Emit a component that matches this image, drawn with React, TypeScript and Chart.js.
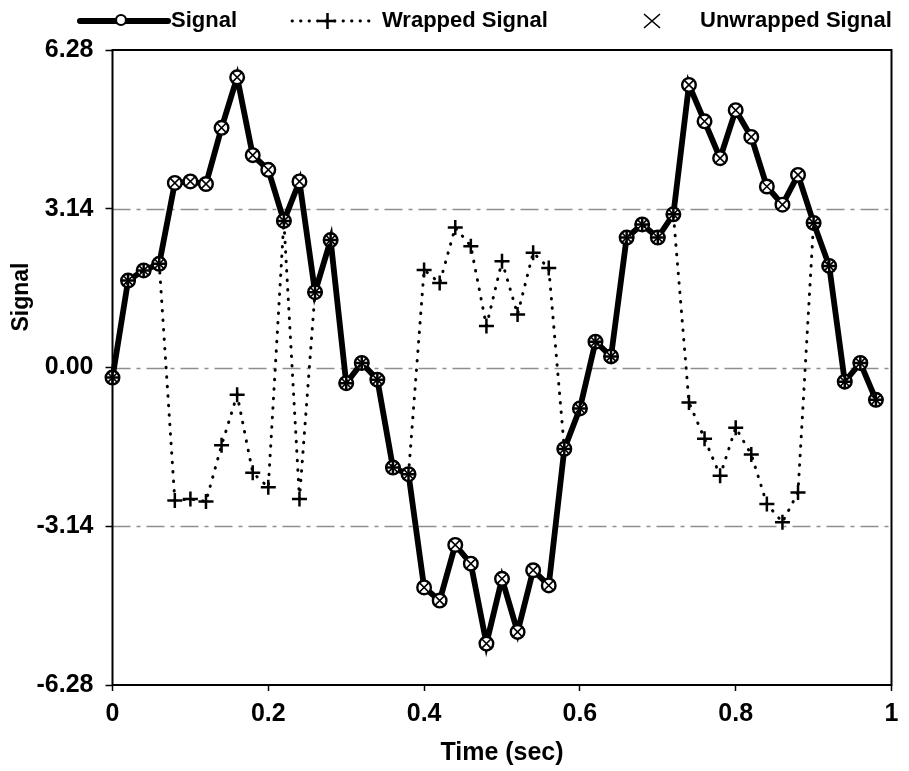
import React, { useEffect, useRef } from "react";
import { Chart, registerables } from "chart.js";

Chart.register(...registerables);

// Sample times (seconds)
const time = [
  0, 0.02, 0.04, 0.06, 0.08, 0.1, 0.12, 0.14, 0.16, 0.18,
  0.2, 0.22, 0.24, 0.26, 0.28, 0.3, 0.32, 0.34, 0.36, 0.38,
  0.4, 0.42, 0.44, 0.46, 0.48, 0.5, 0.52, 0.54, 0.56, 0.58,
  0.6, 0.62, 0.64, 0.66, 0.68, 0.7, 0.72, 0.74, 0.76, 0.78,
  0.8, 0.82, 0.84, 0.86, 0.88, 0.9, 0.92, 0.94, 0.96, 0.98,
];

// Original phase signal
const signal = [
  -0.2, 1.72, 1.92, 2.05, 3.65, 3.68, 3.63, 4.74, 5.74, 4.2,
  3.91, 2.9, 3.68, 1.49, 2.52, -0.31, 0.09, -0.24, -1.98, -2.11,
  -4.35, -4.61, -3.51, -3.88, -5.46, -4.18, -5.23, -4.01, -4.31, -1.61,
  -0.81, 0.51, 0.22, 2.57, 2.83, 2.57, 3.03, 5.59, 4.87, 4.14,
  5.09, 4.56, 3.58, 3.22, 3.81, 2.86, 2.01, -0.28, 0.09, -0.64,
];

// Phase folded into [-pi, pi]
const wrappedSignal = [
  -0.2, 1.72, 1.92, 2.05, -2.63, -2.6, -2.65, -1.54, -0.54, -2.08,
  -2.37, 2.9, -2.6, 1.49, 2.52, -0.31, 0.09, -0.24, -1.98, -2.11,
  1.93, 1.67, 2.77, 2.4, 0.82, 2.1, 1.05, 2.27, 1.97, -1.61,
  -0.81, 0.51, 0.22, 2.57, 2.83, 2.57, 3.03, -0.69, -1.41, -2.14,
  -1.19, -1.72, -2.7, -3.06, -2.47, 2.86, 2.01, -0.28, 0.09, -0.64,
];

// Phase recovered by unwrapping
const unwrappedSignal = [
  -0.2, 1.72, 1.92, 2.05, 3.65, 3.68, 3.63, 4.74, 5.74, 4.2,
  3.91, 2.9, 3.68, 1.49, 2.52, -0.31, 0.09, -0.24, -1.98, -2.11,
  -4.35, -4.61, -3.51, -3.88, -5.46, -4.18, -5.23, -4.01, -4.31, -1.61,
  -0.81, 0.51, 0.22, 2.57, 2.83, 2.57, 3.03, 5.59, 4.87, 4.14,
  5.09, 4.56, 3.58, 3.22, 3.81, 2.86, 2.01, -0.28, 0.09, -0.64,
];

const yTicks = [-6.28, -3.14, 0, 3.14, 6.28];
const xTicks = [0, 0.2, 0.4, 0.6, 0.8, 1];

const FONT = '"Liberation Sans", Arial, Helvetica, sans-serif';

const toPoints = (ys: number[]) => time.map((t, i) => ({ x: t, y: ys[i] }));

// Dashed reference lines, plot frame, y-axis title and the legend strip
const framePlugin = {
  id: "phaseFrame",
  beforeDatasetsDraw(chart: any) {
    const { ctx, chartArea } = chart;
    const y = chart.scales.y;
    ctx.save();
    ctx.strokeStyle = "#8e8e8e";
    ctx.lineWidth = 1.3;
    ctx.setLineDash([18, 6, 4, 6]);
    yTicks
      .filter((v) => v > yTicks[0] && v < yTicks[yTicks.length - 1])
      .forEach((v) => {
        const py = Math.round(y.getPixelForValue(v)) + 0.5;
        ctx.beginPath();
        ctx.moveTo(chartArea.left, py);
        ctx.lineTo(chartArea.right, py);
        ctx.stroke();
      });
    ctx.restore();
  },
  afterDraw(chart: any) {
    const { ctx, chartArea } = chart;
    ctx.save();
    ctx.strokeStyle = "#000";
    ctx.lineWidth = 2;
    ctx.strokeRect(
      chartArea.left,
      chartArea.top,
      chartArea.right - chartArea.left,
      chartArea.bottom - chartArea.top
    );

    // y-axis title
    ctx.save();
    ctx.translate(22, 297);
    ctx.rotate(-Math.PI / 2);
    ctx.font = `bold 23px ${FONT}`;
    ctx.fillStyle = "#000";
    ctx.textAlign = "center";
    ctx.textBaseline = "middle";
    ctx.fillText("Signal", 0, 0);
    ctx.restore();

    const ly = 21;
    ctx.font = `bold 22px ${FONT}`;
    ctx.fillStyle = "#000";
    ctx.textBaseline = "alphabetic";
    ctx.textAlign = "left";

    // Signal: thick line with open circle
    ctx.lineWidth = 6;
    ctx.lineCap = "round";
    ctx.beginPath();
    ctx.moveTo(80, ly);
    ctx.lineTo(168, ly);
    ctx.stroke();
    ctx.lineWidth = 2.2;
    ctx.fillStyle = "#fff";
    ctx.beginPath();
    ctx.arc(121, ly - 1, 5, 0, Math.PI * 2);
    ctx.fill();
    ctx.stroke();
    ctx.fillStyle = "#000";
    ctx.fillText("Signal", 171, 27);

    // Wrapped Signal: dotted line with plus
    ctx.lineWidth = 2.8;
    ctx.setLineDash([0.5, 8]);
    ctx.beginPath();
    ctx.moveTo(292, ly);
    ctx.lineTo(373, ly);
    ctx.stroke();
    ctx.setLineDash([]);
    ctx.lineCap = "butt";
    ctx.lineWidth = 2.5;
    ctx.beginPath();
    ctx.moveTo(319, ly);
    ctx.lineTo(336, ly);
    ctx.moveTo(327.5, ly - 8);
    ctx.lineTo(327.5, ly + 8);
    ctx.stroke();
    ctx.fillText("Wrapped Signal", 382, 27);

    // Unwrapped Signal: cross marker only
    ctx.lineWidth = 1.6;
    ctx.beginPath();
    ctx.moveTo(644, ly - 7);
    ctx.lineTo(660, ly + 7);
    ctx.moveTo(660, ly - 7);
    ctx.lineTo(644, ly + 7);
    ctx.stroke();
    ctx.fillText("Unwrapped Signal", 700, 27);
    ctx.restore();
  },
};

export default function App() {
  const canvasRef = useRef<HTMLCanvasElement | null>(null);

  useEffect(() => {
    const canvas = canvasRef.current;
    if (!canvas) return;

    const tickFont = { family: FONT, size: 25, weight: "bold" as const };
    const titleFont = { family: FONT, size: 25, weight: "bold" as const };

    const chart = new Chart(canvas, {
      type: "line",
      data: {
        datasets: [
          {
            label: "Signal",
            data: toPoints(signal),
            borderColor: "#000",
            borderWidth: 5.8,
            pointStyle: "circle",
            pointRadius: 6.8,
            pointBackgroundColor: "#fff",
            pointBorderColor: "#000",
            pointBorderWidth: 2.4,
            tension: 0,
            order: 3,
            clip: false,
          },
          {
            label: "Wrapped Signal",
            data: toPoints(wrappedSignal),
            borderColor: "#000",
            borderWidth: 3,
            borderDash: [0.5, 9],
            borderCapStyle: "round",
            pointStyle: "cross",
            pointRadius: 7.5,
            pointBorderColor: "#000",
            pointBorderWidth: 2.5,
            tension: 0,
            order: 2,
            clip: false,
          },
          {
            label: "Unwrapped Signal",
            data: toPoints(unwrappedSignal),
            showLine: false,
            pointStyle: "crossRot",
            pointRadius: 7.5,
            pointBorderColor: "#000",
            pointBorderWidth: 1.6,
            order: 1,
            clip: false,
          },
        ],
      },
      options: {
        responsive: false,
        animation: false,
        events: [],
        layout: { padding: { top: 50, right: 17.5, left: 0, bottom: 0 } },
        plugins: {
          legend: { display: false },
          tooltip: { enabled: false },
        },
        scales: {
          x: {
            type: "linear",
            position: "bottom",
            min: 0,
            max: 1,
            afterFit: (scale: any) => {
              scale.height = 86;
            },
            afterBuildTicks: (scale: any) => {
              scale.ticks = xTicks.map((v) => ({ value: v }));
            },
            ticks: {
              font: tickFont,
              color: "#000",
              padding: 8,
              maxRotation: 0,
              callback: (v: any) => String(Number(Number(v).toFixed(1))),
            },
            grid: {
              drawOnChartArea: false,
              drawTicks: true,
              tickLength: 6,
              tickColor: "#000",
              tickWidth: 1.5,
            },
            border: { display: false },
            title: {
              display: true,
              text: "Time (sec)",
              font: titleFont,
              color: "#000",
              padding: { top: 0, bottom: 3 },
            },
          },
          y: {
            type: "linear",
            min: -6.28,
            max: 6.28,
            afterFit: (scale: any) => {
              scale.width = 112.5;
            },
            afterBuildTicks: (scale: any) => {
              scale.ticks = yTicks.map((v) => ({ value: v }));
            },
            ticks: {
              font: tickFont,
              color: "#000",
              padding: 12,
              callback: (v: any) => Number(v).toFixed(2),
            },
            grid: {
              drawOnChartArea: false,
              drawTicks: true,
              tickLength: 7,
              tickColor: "#000",
              tickWidth: 1.5,
            },
            border: { display: false },
          },
        },
      },
      plugins: [framePlugin],
    });

    return () => chart.destroy();
  }, []);

  return (
    <div
      style={{
        position: "fixed",
        left: 0,
        top: 0,
        width: 909,
        height: 771,
        background: "#fff",
      }}
    >
      <canvas ref={canvasRef} width={909} height={771} style={{ display: "block" }} />
    </div>
  );
}
